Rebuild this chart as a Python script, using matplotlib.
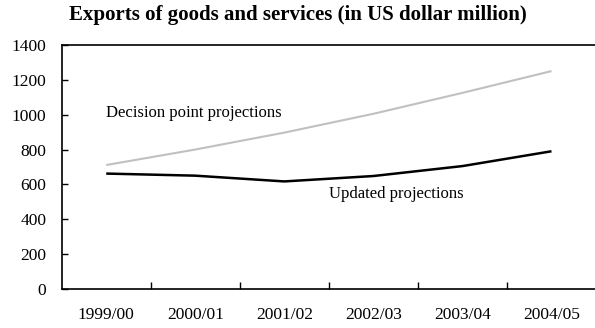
import matplotlib.pyplot as plt
from matplotlib.ticker import FixedLocator

years = ['1999/00', '2000/01', '2001/02', '2002/03', '2003/04', '2004/05']
decision_point = [711, 800, 897, 1005, 1125, 1250]
updated = [662, 650, 617, 648, 705, 790]
y_ticks = [0, 200, 400, 600, 800, 1000, 1200, 1400]

plt.rcParams['font.family'] = 'Liberation Serif'

fig = plt.figure(figsize=(5.95, 3.28), dpi=100)
ax = fig.add_axes([0.1037, 0.119, 0.898, 0.744])

x = range(len(years))
ax.plot(x, decision_point, color='#c0c0c0', lw=1.5, solid_capstyle='butt')
ax.plot(x, updated, color='black', lw=1.8, solid_capstyle='butt')

ax.text(0.0, 1010, 'Decision point projections', fontsize=12, va='center', ha='left')
ax.text(2.5, 545, 'Updated projections', fontsize=12, va='center', ha='left')

ax.set_xlim(-0.5, len(years) - 0.5)
ax.set_ylim(0, 1400)
ax.set_xticks(list(x))
ax.set_xticklabels(years)
ax.xaxis.set_minor_locator(FixedLocator([i + 0.5 for i in range(len(years) - 1)]))
ax.set_yticks(y_ticks)

ax.tick_params(axis='x', which='major', length=0, pad=13, labelsize=12.5)
ax.tick_params(axis='x', which='minor', direction='in', length=5, width=1)
ax.tick_params(axis='y', direction='in', length=4.5, width=1, pad=11, labelsize=12.5)

for side in ['left', 'bottom', 'top']:
    ax.spines[side].set_linewidth(1.2)
    ax.spines[side].set_color('black')
ax.spines['right'].set_visible(False)

fig.text(0.5, 0.954, 'Exports of goods and services (in US dollar million)',
         ha='center', va='center', fontsize=15, fontweight='bold')

fig.savefig('out.png', dpi=100)
